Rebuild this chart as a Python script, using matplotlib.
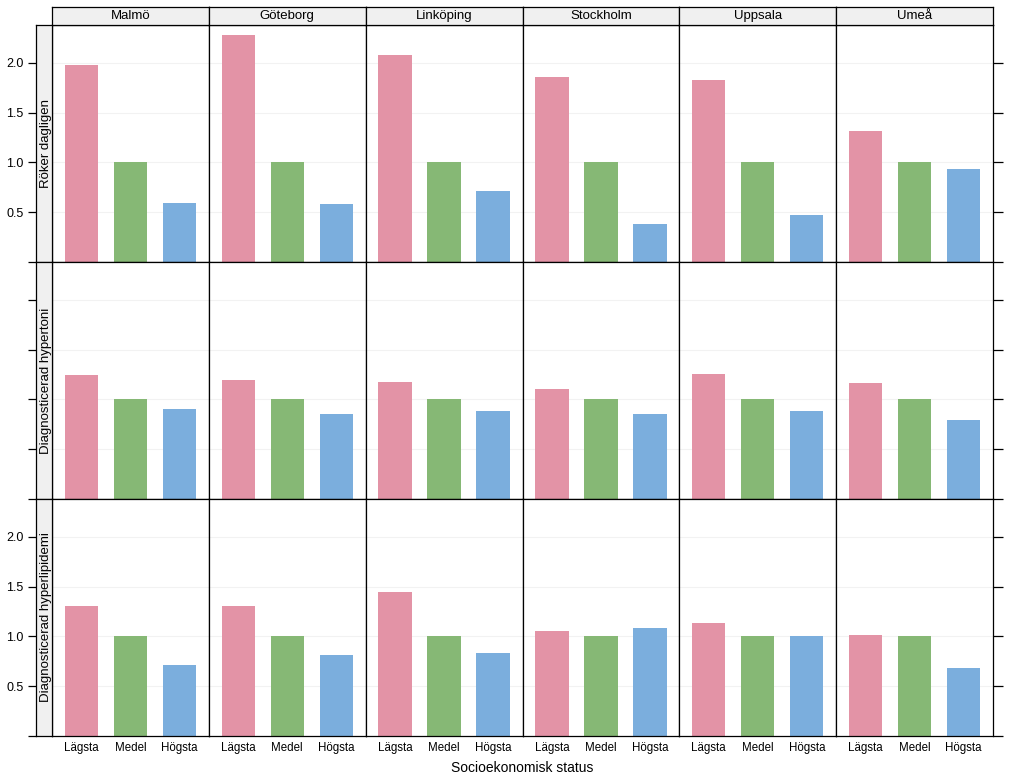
import matplotlib
matplotlib.use("Agg")
from matplotlib import pyplot as plt

plt.rcParams['font.family'] = ['Liberation Sans', 'DejaVu Sans']

# Data
cities = ['Malmö', 'Göteborg', 'Linköping', 'Stockholm', 'Uppsala', 'Umeå']
levels = ['Lägsta', 'Medel', 'Högsta']
outcomes = ['Röker dagligen', 'Diagnosticerad hypertoni', 'Diagnosticerad hyperlipidemi']

roker = [[1.98, 1.0, 0.59], [2.28, 1.0, 0.58], [2.08, 1.0, 0.71],
         [1.86, 1.0, 0.38], [1.83, 1.0, 0.47], [1.32, 1.0, 0.93]]
hypertoni = [[1.25, 1.0, 0.90], [1.19, 1.0, 0.85], [1.17, 1.0, 0.88],
             [1.10, 1.0, 0.85], [1.26, 1.0, 0.88], [1.16, 1.0, 0.79]]
hyperlipidemi = [[1.31, 1.0, 0.71], [1.31, 1.0, 0.81], [1.45, 1.0, 0.83],
                 [1.05, 1.0, 1.08], [1.13, 1.0, 1.0], [1.01, 1.0, 0.68]]
values = [roker, hypertoni, hyperlipidemi]

colors = ['#E393A6', '#86B875', '#7BAEDD']
strip_bg = '#F0F0F0'

W, H = 1024, 780
fig = plt.figure(figsize=(W / 100, H / 100), dpi=100)

def px(x0, y0, x1, y1):
    # pixel box (top-left origin) -> figure fraction
    return [x0 / W, 1 - y1 / H, (x1 - x0) / W, (y1 - y0) / H]

left, right, top, bottom = 52, 993, 25, 736
colw = (right - left) / 6
rowh = (bottom - top) / 3
ylim = (0, 2.38)
ticks = [0, 0.5, 1.0, 1.5, 2.0]
ticklabels = ['', '0.5', '1.0', '1.5', '2.0']
xs = [1, 2, 3]

for r in range(3):
    y0 = top + r * rowh
    y1 = y0 + rowh
    for c in range(6):
        x0 = left + c * colw
        x1 = x0 + colw
        ax = fig.add_axes(px(x0, y0, x1, y1))
        ax.bar(xs, values[r][c], width=0.68, color=colors, zorder=2)
        ax.set_xlim(0.4, 3.6)
        ax.set_ylim(*ylim)
        for v in ticks[1:]:
            ax.axhline(v, color='#F2F2F2', lw=0.8, zorder=1)
        for s in ax.spines.values():
            s.set_color('black')
            s.set_linewidth(0.9)
        ax.tick_params(left=False, labelleft=False)
        if r == 2:
            ax.set_xticks(xs)
            ax.set_xticklabels(levels, fontsize=8.3)
            ax.tick_params(axis='x', length=0, pad=4)
        else:
            ax.set_xticks([])
        if c == 5:
            ax.yaxis.tick_right()
            ax.set_yticks(ticks)
            if r == 1:
                ax.set_yticklabels(ticklabels, fontsize=9)
            else:
                ax.set_yticklabels([''] * len(ticks))
            ax.tick_params(axis='y', right=True, length=7, width=0.9, pad=3)
        else:
            ax.set_yticks([])
        if r == 0:
            sax = fig.add_axes(px(x0, 7, x1, top))
            sax.set_facecolor(strip_bg)
            sax.set_xticks([])
            sax.set_yticks([])
            sax.text(0.5, 0.5, cities[c], ha='center', va='center', fontsize=9.5,
                     transform=sax.transAxes)
            for s in sax.spines.values():
                s.set_linewidth(0.9)

    # left strip with the outcome label and left ticks
    lax = fig.add_axes(px(36, y0, left, y1))
    lax.set_facecolor(strip_bg)
    lax.set_xticks([])
    lax.set_ylim(*ylim)
    lax.set_yticks(ticks)
    if r == 1:
        lax.set_yticklabels([''] * len(ticks))
    else:
        lax.set_yticklabels(ticklabels, fontsize=9)
    lax.tick_params(axis='y', length=6, width=0.9, pad=3)
    for s in lax.spines.values():
        s.set_linewidth(0.9)
    lax.text(0.6, 0.5, outcomes[r], rotation=90, ha='center', va='center',
             fontsize=9.5, transform=lax.transAxes)

fig.text((left + right) / 2 / W, 1 - 768 / H, 'Socioekonomisk status',
         ha='center', va='center', fontsize=10)

fig.savefig('out.png', dpi=100, facecolor='white')
